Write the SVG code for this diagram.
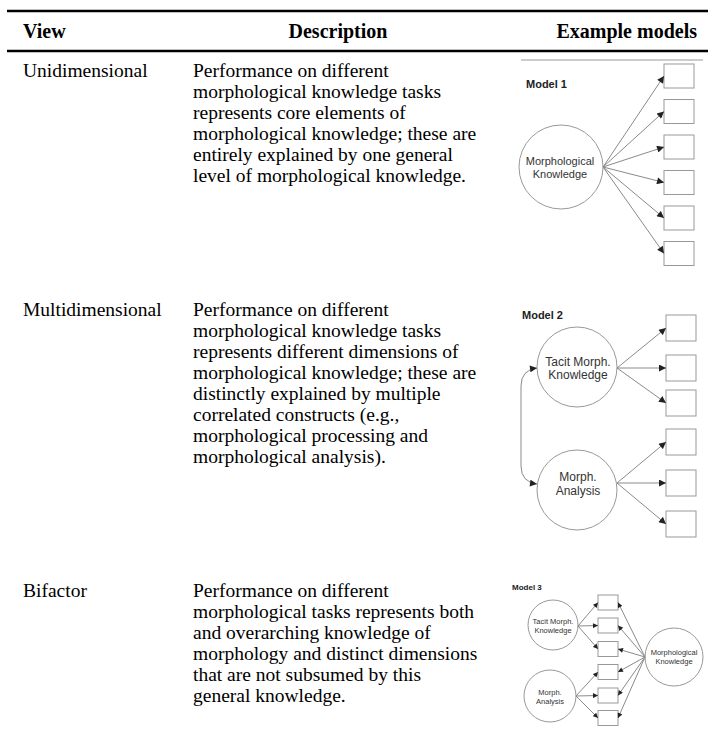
<svg xmlns="http://www.w3.org/2000/svg" width="708" height="754" viewBox="0 0 708 754">
<style>
.hd{font-family:"Liberation Serif","Times New Roman",serif;font-weight:bold;font-size:20px;fill:#000}
.tx{font-family:"Liberation Serif","Times New Roman",serif;font-size:19.5px;fill:#000}
.rule{stroke:#000;stroke-width:2.6}
.lbl{font-family:"Liberation Sans",Arial,sans-serif;font-weight:bold;fill:#222}
.nt{font-family:"Liberation Sans",Arial,sans-serif;fill:#333;text-anchor:middle}
.circ{fill:#fff;stroke:#999;stroke-width:1}
.box{fill:#fff;stroke:#999;stroke-width:1}
.ln{stroke:#8a8a8a;stroke-width:1;fill:none}
</style>
<defs>
<marker id="ah" viewBox="0 0 10 10" refX="10" refY="5" markerWidth="9" markerHeight="7" markerUnits="userSpaceOnUse" orient="auto"><path d="M0,0 L10,5 L0,10 z" fill="#222"/></marker>
<marker id="ah2" viewBox="0 0 10 10" refX="10" refY="5" markerWidth="9" markerHeight="7" markerUnits="userSpaceOnUse" orient="auto-start-reverse"><path d="M0,0 L10,5 L0,10 z" fill="#222"/></marker>
<marker id="ahs" viewBox="0 0 10 10" refX="10" refY="5" markerWidth="6" markerHeight="5" markerUnits="userSpaceOnUse" orient="auto"><path d="M0,0 L10,5 L0,10 z" fill="#222"/></marker>
</defs>
<rect width="708" height="754" fill="#fff"/>

<g id="table">
<line class="rule" x1="7" y1="11" x2="708" y2="11"/>
<line class="rule" x1="7" y1="51" x2="708" y2="51"/>
<text class="hd" x="23" y="38">View</text>
<text class="hd" x="338" y="38" text-anchor="middle">Description</text>
<text class="hd" x="697" y="38" text-anchor="end">Example models</text>
</g>

<g id="row1">
<text class="tx" x="23" y="76.5">Unidimensional</text>
<text class="tx" x="193" y="76.5">Performance on different<tspan x="193" dy="21">morphological knowledge tasks</tspan><tspan x="193" dy="21">represents core elements of</tspan><tspan x="193" dy="21">morphological knowledge; these are</tspan><tspan x="193" dy="21">entirely explained by one general</tspan><tspan x="193" dy="21">level of morphological knowledge.</tspan></text>
</g>

<g id="row2">
<text class="tx" x="23" y="316">Multidimensional</text>
<text class="tx" x="193" y="316">Performance on different<tspan x="193" dy="21">morphological knowledge tasks</tspan><tspan x="193" dy="21">represents different dimensions of</tspan><tspan x="193" dy="21">morphological knowledge; these are</tspan><tspan x="193" dy="21">distinctly explained by multiple</tspan><tspan x="193" dy="21">correlated constructs (e.g.,</tspan><tspan x="193" dy="21">morphological processing and</tspan><tspan x="193" dy="21">morphological analysis).</tspan></text>
</g>

<g id="row3">
<text class="tx" x="23" y="596.5">Bifactor</text>
<text class="tx" x="193" y="596.5">Performance on different<tspan x="193" dy="21">morphological tasks represents both</tspan><tspan x="193" dy="21">and overarching knowledge of</tspan><tspan x="193" dy="21">morphology and distinct dimensions</tspan><tspan x="193" dy="21">that are not subsumed by this</tspan><tspan x="193" dy="21">general knowledge.</tspan></text>
</g>

<g id="model1">
<line x1="521" y1="60" x2="703" y2="60" stroke="#999" stroke-width="1"/>
<text class="lbl" x="526" y="88" font-size="11">Model 1</text>
<g id="m1-factor"><circle class="circ" cx="561" cy="167" r="42"/>
<text class="nt" x="560" y="165" font-size="11">Morphological</text>
<text class="nt" x="560" y="178" font-size="11">Knowledge</text></g>
<g id="m1-boxes">
<rect class="box" x="664" y="64" width="30" height="24"/>
<rect class="box" x="664" y="99.5" width="30" height="24"/>
<rect class="box" x="664" y="135" width="30" height="24"/>
<rect class="box" x="664" y="170.5" width="30" height="24"/>
<rect class="box" x="664" y="206" width="30" height="24"/>
<rect class="box" x="664" y="241.5" width="30" height="24"/>
</g>
</g>

<g id="model2">
<text class="lbl" x="522" y="319" font-size="11">Model 2</text>
<g id="m2-tacit"><circle class="circ" cx="577" cy="367" r="40"/>
<text class="nt" x="578" y="366" font-size="12">Tacit Morph.</text>
<text class="nt" x="578" y="379" font-size="12">Knowledge</text></g>
<g id="m2-analysis"><circle class="circ" cx="577" cy="490" r="40"/>
<text class="nt" x="578" y="481" font-size="12">Morph.</text>
<text class="nt" x="578" y="495" font-size="12">Analysis</text></g>
<g id="m2-boxes">
<rect class="box" x="666" y="315" width="30" height="26"/>
<rect class="box" x="666" y="355" width="30" height="26"/>
<rect class="box" x="666" y="390" width="30" height="26"/>
<rect class="box" x="666" y="429" width="30" height="26"/>
<rect class="box" x="666" y="470" width="30" height="26"/>
<rect class="box" x="666" y="511" width="30" height="26"/>
</g>
</g>

<g id="model3">
<text class="lbl" x="512" y="590" font-size="8">Model 3</text>
<g id="m3-tacit"><circle class="circ" cx="553" cy="625" r="25"/>
<text class="nt" x="553" y="624" font-size="7.5">Tacit Morph.</text>
<text class="nt" x="553" y="633" font-size="7.5">Knowledge</text></g>
<g id="m3-analysis"><circle class="circ" cx="550" cy="696" r="26"/>
<text class="nt" x="550" y="695" font-size="7.5">Morph.</text>
<text class="nt" x="550" y="703.5" font-size="7.5">Analysis</text></g>
<g id="m3-general"><circle class="circ" cx="674" cy="657" r="29"/>
<text class="nt" x="674" y="655" font-size="7.5">Morphological</text>
<text class="nt" x="674" y="664" font-size="7.5">Knowledge</text></g>
<g id="m3-boxes">
<rect class="box" x="598" y="595" width="20" height="15"/>
<rect class="box" x="598" y="618" width="20" height="15"/>
<rect class="box" x="598" y="641.5" width="20" height="15"/>
<rect class="box" x="598" y="664.5" width="20" height="15"/>
<rect class="box" x="598" y="688" width="20" height="15"/>
<rect class="box" x="598" y="710.5" width="20" height="15"/>
</g>
</g>

<g id="connectors">
<line class="ln" x1="603" y1="167" x2="664" y2="76" marker-end="url(#ah)"/>
<line class="ln" x1="603" y1="167" x2="664" y2="111.5" marker-end="url(#ah)"/>
<line class="ln" x1="603" y1="167" x2="664" y2="147" marker-end="url(#ah)"/>
<line class="ln" x1="603" y1="167" x2="664" y2="182.5" marker-end="url(#ah)"/>
<line class="ln" x1="603" y1="167" x2="664" y2="218" marker-end="url(#ah)"/>
<line class="ln" x1="603" y1="167" x2="664" y2="253.5" marker-end="url(#ah)"/>
<line class="ln" x1="617" y1="368" x2="666" y2="328" marker-end="url(#ah)"/>
<line class="ln" x1="617" y1="368" x2="666" y2="368" marker-end="url(#ah)"/>
<line class="ln" x1="617" y1="368" x2="666" y2="403" marker-end="url(#ah)"/>
<line class="ln" x1="617" y1="483" x2="666" y2="442" marker-end="url(#ah)"/>
<line class="ln" x1="617" y1="483" x2="666" y2="483" marker-end="url(#ah)"/>
<line class="ln" x1="617" y1="483" x2="666" y2="524" marker-end="url(#ah)"/>
<path class="ln" d="M537,368 Q521,370 521,386 L521,466 Q521,482 537,484" marker-start="url(#ah2)" marker-end="url(#ah2)"/>
<line class="ln" x1="578" y1="626" x2="598" y2="602.5" marker-end="url(#ahs)"/>
<line class="ln" x1="578" y1="626" x2="598" y2="625.5" marker-end="url(#ahs)"/>
<line class="ln" x1="578" y1="626" x2="598" y2="649" marker-end="url(#ahs)"/>
<line class="ln" x1="576" y1="696" x2="598" y2="672" marker-end="url(#ahs)"/>
<line class="ln" x1="576" y1="696" x2="598" y2="695.5" marker-end="url(#ahs)"/>
<line class="ln" x1="576" y1="696" x2="598" y2="718" marker-end="url(#ahs)"/>
<line class="ln" x1="645" y1="657" x2="618" y2="602.5" marker-end="url(#ahs)"/>
<line class="ln" x1="645" y1="657" x2="618" y2="625.5" marker-end="url(#ahs)"/>
<line class="ln" x1="645" y1="657" x2="618" y2="649" marker-end="url(#ahs)"/>
<line class="ln" x1="645" y1="657" x2="618" y2="672" marker-end="url(#ahs)"/>
<line class="ln" x1="645" y1="657" x2="618" y2="695.5" marker-end="url(#ahs)"/>
<line class="ln" x1="645" y1="657" x2="618" y2="718" marker-end="url(#ahs)"/>
</g>
</svg>
